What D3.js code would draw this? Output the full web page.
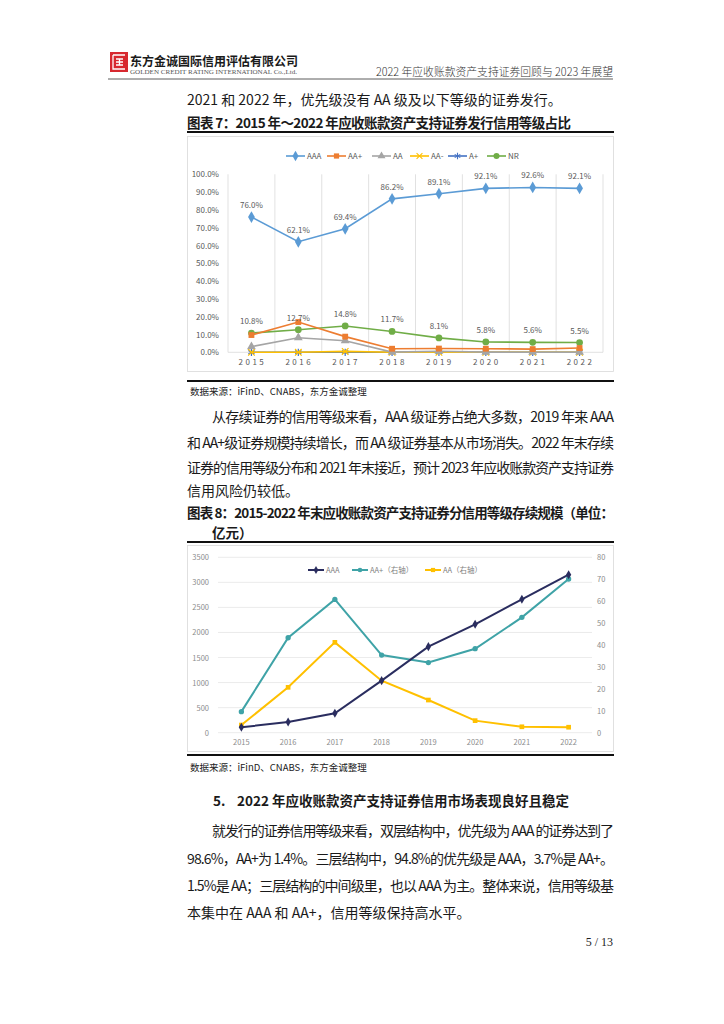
<!DOCTYPE html>
<html>
<head>
<meta charset="utf-8">
<script src="https://cdn.jsdelivr.net/npm/d3@7"></script>
<style>
  body { margin: 0; background: #fff; }
  text { font-family: "Noto Sans CJK SC", "Noto Sans", sans-serif; }
</style>
</head>
<body>
<div id="page"></div>
<script>
// ---- data ----
var years = ["2015", "2016", "2017", "2018", "2019", "2020", "2021", "2022"];

// chart 7: share of issuance by rating (%)
var issueAAA     = [76.0, 62.1, 69.4, 86.2, 89.1, 92.1, 92.6, 92.1];
var issueAAplus  = [9.7, 17.0, 8.8, 2.0, 2.1, 2.0, 1.8, 2.4];
var issueAA      = [3.2, 8.2, 6.5, 0.1, 0.6, 0.1, 0, 0];
var issueAAminus = [0, 0, 0.5, 0, 0, 0, 0, 0];
var issueAplus   = [0, 0, 0, 0, 0, 0, 0, 0];
var issueNR      = [10.8, 12.7, 14.8, 11.7, 8.1, 5.8, 5.6, 5.5];
var shareTicks   = [0, 10, 20, 30, 40, 50, 60, 70, 80, 90, 100];

// chart 8: outstanding amount (100m yuan)
var stockAAA    = [108, 213, 387, 1038, 1717, 2163, 2662, 3153];
var stockAAplus = [9.6, 43.3, 60.8, 35.4, 32.0, 38.3, 52.6, 70.1];
var stockAA     = [3.5, 20.7, 41.2, 23.7, 14.9, 5.5, 2.7, 2.5];
var leftTicks   = [0, 500, 1000, 1500, 2000, 2500, 3000, 3500];
var rightTicks  = [0, 10, 20, 30, 40, 50, 60, 70, 80];

var svg = d3.select("#page").append("svg")
  .attr("width", 724).attr("height", 1024);

// ---------------- page header ----------------
var logo = svg.append("g");
logo.append("rect").attr("x", 110).attr("y", 52).attr("width", 18).attr("height", 20).attr("fill", "#d7282f");
logo.append("path")
  .attr("d", "M113,55 H125 M113,55 V69 H125 M116,59 H123 M116,62 H123 M116,65 H123 M119.5,59 V65")
  .attr("stroke", "#fff").attr("stroke-width", 1.3).attr("fill", "none");
svg.append("text").attr("x", 130).attr("y", 66)
  .attr("textLength", 168).attr("lengthAdjust", "spacingAndGlyphs")
  .style("font-family", "'Noto Sans CJK SC'").style("font-weight", "bold")
  .style("font-size", "12.5px").attr("fill", "#1a1a1a")
  .text("东方金诚国际信用评估有限公司");
svg.append("text").attr("x", 130).attr("y", 74)
  .attr("textLength", 167).attr("lengthAdjust", "spacingAndGlyphs")
  .style("font-family", "'Liberation Serif'").style("font-size", "5.5px").attr("fill", "#555")
  .text("GOLDEN CREDIT RATING INTERNATIONAL Co.,Ltd.");
svg.append("text").attr("x", 613).attr("y", 76).attr("text-anchor", "end")
  .attr("textLength", 237).attr("lengthAdjust", "spacingAndGlyphs")
  .style("font-size", "11.5px").style("font-weight", 300).attr("fill", "#333")
  .text("2022 年应收账款资产支持证券回顾与 2023 年展望");
svg.append("line").attr("x1", 108).attr("x2", 613).attr("y1", 79).attr("y2", 79)
  .attr("stroke", "#333").attr("stroke-width", 0.8);

// ---------------- body text helpers ----------------
function bodyLine(x, y, str, full) {
  var t = svg.append("text").attr("x", x).attr("y", y)
    .style("font-size", "14px").attr("fill", "#1a1a1a").text(str);
  if (full) t.attr("textLength", 614 - x).attr("lengthAdjust", "spacing");
  return t;
}
function titleLine(x, y, str, len) {
  var t = svg.append("text").attr("x", x).attr("y", y)
    .style("font-size", "13.5px").style("font-weight", "bold").attr("fill", "#1a1a1a").text(str);
  if (len) t.attr("textLength", len).attr("lengthAdjust", "spacing");
  return t;
}
function rule(y) {
  svg.append("line").attr("x1", 187).attr("x2", 614).attr("y1", y).attr("y2", y)
    .attr("stroke", "#111").attr("stroke-width", 2);
}
function source(y) {
  svg.append("text").attr("x", 190).attr("y", y)
    .style("font-size", "9.5px").attr("fill", "#222")
    .text("数据来源：iFinD、CNABS，东方金诚整理");
}

bodyLine(187, 105, "2021 和 2022 年，优先级没有 AA 级及以下等级的证券发行。", false);
titleLine(187, 128, "图表 7：2015 年～2022 年应收账款资产支持证券发行信用等级占比", 384);
rule(132);

// ---------------- chart 7 ----------------
var c1 = svg.append("g");
c1.append("rect").attr("x", 187.5).attr("y", 136.5).attr("width", 426).attr("height", 235)
  .attr("fill", "none").attr("stroke", "#d9d9d9").attr("stroke-width", 0.8);

var x1 = d3.scaleBand().domain(years).range([228, 603]);
var y1 = d3.scaleLinear().domain([0, 100]).range([352.3, 174.3]);

// vertical gridlines at category boundaries
var bounds1 = years.map(function(d) { return x1(d); }).concat([x1.range()[1]]);
c1.selectAll(".vg").data(bounds1).enter().append("line")
  .attr("x1", function(d) { return d; }).attr("x2", function(d) { return d; })
  .attr("y1", y1(100)).attr("y2", y1(0))
  .attr("stroke", "#d9d9d9").attr("stroke-width", 0.8);
c1.append("line").attr("x1", 228).attr("x2", 603).attr("y1", y1(0)).attr("y2", y1(0))
  .attr("stroke", "#d9d9d9").attr("stroke-width", 0.8);

c1.selectAll(".yl").data(shareTicks).enter().append("text")
  .attr("x", 219).attr("y", function(d) { return y1(d) + 3; })
  .attr("text-anchor", "end").style("font-size", "8px").attr("fill", "#595959")
  .text(function(d) { return d3.format(".1f")(d) + "%"; });
c1.selectAll(".xl").data(years).enter().append("text")
  .attr("x", function(d) { return x1(d) + x1.bandwidth() / 2 + 1; }).attr("y", 365)
  .attr("text-anchor", "middle").style("font-size", "8px").style("letter-spacing", "2.5px")
  .attr("fill", "#595959").text(function(d) { return d; });

var series1 = [
  {name: "AAA", values: issueAAA, color: "#5b9bd5", sym: d3.symbolDiamond, size: 40, fill: true, labels: true},
  {name: "AA+", values: issueAAplus, color: "#ed7d31", sym: d3.symbolSquare, size: 34, fill: true},
  {name: "AA", values: issueAA, color: "#a5a5a5", sym: d3.symbolTriangle, size: 34, fill: true},
  {name: "AA-", values: issueAAminus, color: "#ffc000", sym: d3.symbolTimes, size: 30, fill: false},
  {name: "A+", values: issueAplus, color: "#4472c4", sym: d3.symbolAsterisk, size: 36, fill: false},
  {name: "NR", values: issueNR, color: "#70ad47", sym: d3.symbolCircle, size: 36, fill: true, labels: true}
];

var cx1 = function(i) { return x1(years[i]) + x1.bandwidth() / 2; };
var line1 = d3.line().x(function(d, i) { return cx1(i); }).y(function(d) { return y1(d); });

// draw bottom series first so AAA / NR sit on top
series1.slice().reverse().forEach(function(s) {
  c1.append("path").attr("d", line1(s.values))
    .attr("fill", "none").attr("stroke", s.color).attr("stroke-width", 1.6);
  c1.selectAll(null).data(s.values).enter().append("path")
    .attr("transform", function(d, i) { return "translate(" + cx1(i) + "," + y1(d) + ")"; })
    .attr("d", d3.symbol().type(s.sym).size(s.size))
    .attr("fill", s.fill ? s.color : "none")
    .attr("stroke", s.color).attr("stroke-width", s.fill ? 0 : 1.2);
});
series1.forEach(function(s) {
  if (!s.labels) return;
  c1.selectAll(null).data(s.values).enter().append("text")
    .attr("x", function(d, i) { return cx1(i); })
    .attr("y", function(d) { return y1(d) - 9; })
    .attr("text-anchor", "middle").style("font-size", "8px").attr("fill", "#595959")
    .text(function(d) { return d3.format(".1f")(d) + "%"; });
});

// legend chart 7
var leg1x = [286, 327, 372, 410, 448, 487];
series1.forEach(function(s, i) {
  var g = c1.append("g").attr("transform", "translate(" + leg1x[i] + ",156)");
  g.append("line").attr("x1", 0).attr("x2", 19).attr("stroke", s.color).attr("stroke-width", 1.6);
  g.append("path").attr("transform", "translate(9.5,0)")
    .attr("d", d3.symbol().type(s.sym).size(s.size * 0.8))
    .attr("fill", s.fill ? s.color : "none")
    .attr("stroke", s.color).attr("stroke-width", s.fill ? 0 : 1.1);
  g.append("text").attr("x", 21).attr("y", 3).style("font-size", "8px").attr("fill", "#595959").text(s.name);
});

rule(381);
source(395);

// ---------------- paragraph 1 ----------------
bodyLine(212, 422, "从存续证券的信用等级来看，AAA 级证券占绝大多数，2019 年来 AAA", true);
bodyLine(187, 448, "和 AA+级证券规模持续增长，而 AA 级证券基本从市场消失。2022 年末存续", true);
bodyLine(187, 473, "证券的信用等级分布和 2021 年末接近，预计 2023 年应收账款资产支持证券", true);
bodyLine(187, 496, "信用风险仍较低。", false);

titleLine(187, 518, "图表 8：2015-2022 年末应收账款资产支持证券分信用等级存续规模（单位：", 427);
titleLine(212, 538, "亿元）");
rule(542);

// ---------------- chart 8 ----------------
var c2 = svg.append("g");
c2.append("rect").attr("x", 187.5).attr("y", 545.5).attr("width", 426).attr("height", 206)
  .attr("fill", "none").attr("stroke", "#d9d9d9").attr("stroke-width", 0.8);

var x2 = d3.scaleBand().domain(years).range([218, 592]);
var yL = d3.scaleLinear().domain([0, 3500]).range([732.7, 557.3]);
var yR = d3.scaleLinear().domain([0, 80]).range([732.7, 557.3]);

c2.selectAll(".hg").data(leftTicks).enter().append("line")
  .attr("x1", 218).attr("x2", 592)
  .attr("y1", function(d) { return yL(d); }).attr("y2", function(d) { return yL(d); })
  .attr("stroke", "#e6e6e6").attr("stroke-width", 0.8);
c2.selectAll(".ll").data(leftTicks).enter().append("text")
  .attr("x", 209).attr("y", function(d) { return yL(d) + 3; })
  .attr("text-anchor", "end").style("font-size", "7.5px").attr("fill", "#8c8c8c")
  .text(function(d) { return d; });
c2.selectAll(".rl").data(rightTicks).enter().append("text")
  .attr("x", 597).attr("y", function(d) { return yR(d) + 3; })
  .style("font-size", "7.5px").attr("fill", "#8c8c8c")
  .text(function(d) { return d; });
c2.selectAll(".xl").data(years).enter().append("text")
  .attr("x", function(d) { return x2(d) + x2.bandwidth() / 2; }).attr("y", 745)
  .attr("text-anchor", "middle").style("font-size", "7.5px").attr("fill", "#8c8c8c")
  .text(function(d) { return d; });

var cx2 = function(i) { return x2(years[i]) + x2.bandwidth() / 2; };
var series2 = [
  {name: "AA（右轴）", values: stockAA, color: "#ffc000", scale: yR, sym: d3.symbolSquare, size: 22},
  {name: "AA+（右轴）", values: stockAAplus, color: "#3fa3a7", scale: yR, sym: d3.symbolCircle, size: 22},
  {name: "AAA", values: stockAAA, color: "#2a2d5f", scale: yL, sym: d3.symbolDiamond, size: 24}
];
series2.forEach(function(s) {
  var ln = d3.line().x(function(d, i) { return cx2(i); }).y(function(d) { return s.scale(d); });
  c2.append("path").attr("d", ln(s.values))
    .attr("fill", "none").attr("stroke", s.color).attr("stroke-width", 2);
  c2.selectAll(null).data(s.values).enter().append("path")
    .attr("transform", function(d, i) { return "translate(" + cx2(i) + "," + s.scale(d) + ")"; })
    .attr("d", d3.symbol().type(s.sym).size(s.size))
    .attr("fill", s.color);
});

// legend chart 8
var leg2x = [425, 352, 308];
series2.forEach(function(s, i) {
  var g = c2.append("g").attr("transform", "translate(" + leg2x[i] + ",570)");
  g.append("line").attr("x1", 0).attr("x2", 16).attr("stroke", s.color).attr("stroke-width", 2);
  g.append("path").attr("transform", "translate(8,0)")
    .attr("d", d3.symbol().type(s.sym).size(s.size * 0.8)).attr("fill", s.color);
  g.append("text").attr("x", 18).attr("y", 3).style("font-size", "7.5px").attr("fill", "#7f7f7f").text(s.name);
});

rule(755);
source(771);

// ---------------- section 5 ----------------
svg.append("text").attr("x", 213).attr("y", 806).style("font-size", "13.5px").style("font-weight", "bold")
  .attr("fill", "#1a1a1a").text("5.");
titleLine(237, 806, "2022 年应收账款资产支持证券信用市场表现良好且稳定", 332);

bodyLine(212, 836, "就发行的证券信用等级来看，双层结构中，优先级为 AAA 的证券达到了", true);
bodyLine(187, 864, "98.6%，AA+为 1.4%。三层结构中，94.8%的优先级是 AAA，3.7%是 AA+。", true);
bodyLine(187, 891, "1.5%是 AA；三层结构的中间级里，也以 AAA 为主。整体来说，信用等级基", true);
bodyLine(187, 918, "本集中在 AAA 和 AA+，信用等级保持高水平。", false);

// page number
svg.append("text").attr("x", 613).attr("y", 946).attr("text-anchor", "end")
  .style("font-family", "'Liberation Serif'").style("font-size", "12px").attr("fill", "#222")
  .text("5 / 13");
</script>
</body>
</html>
